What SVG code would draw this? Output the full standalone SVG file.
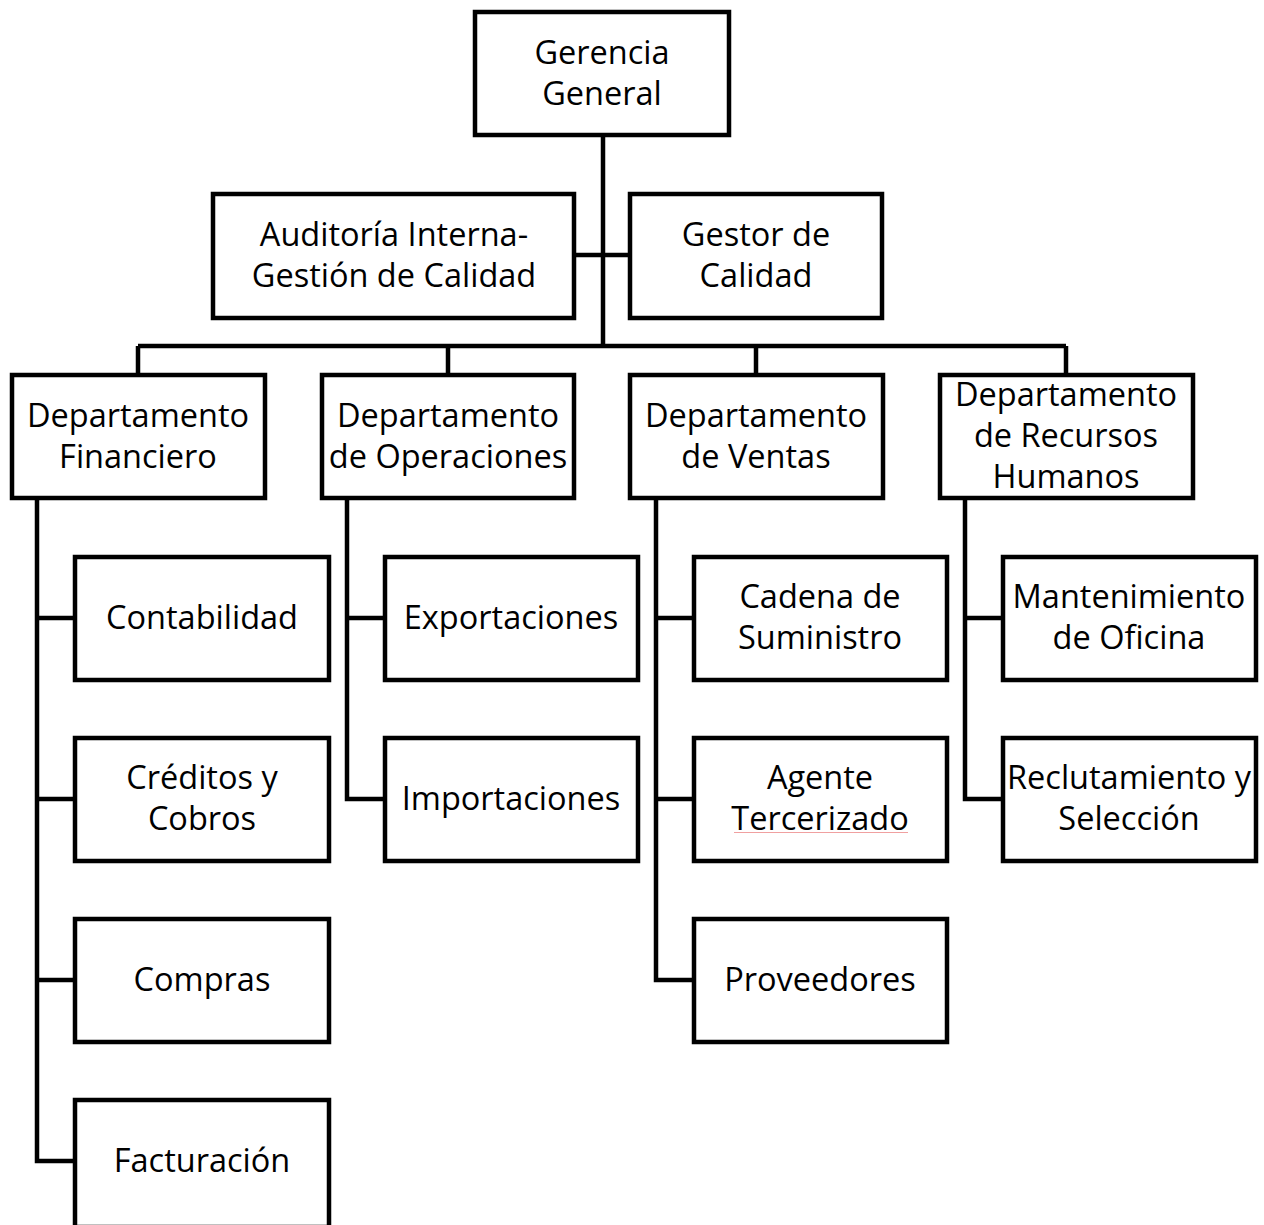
<svg xmlns="http://www.w3.org/2000/svg" width="1264" height="1225" viewBox="0 0 1264 1225">
<style>
.box{fill:#fff;stroke:#000;stroke-width:4.5;stroke-linejoin:miter}
.t{font-family:"Open Sans","Noto Sans",sans-serif;font-size:32.5px;fill:#000;text-anchor:middle}
.c{fill:none;stroke:#000;stroke-width:4.5;stroke-linejoin:miter;stroke-linecap:butt}
</style>
<rect width="1264" height="1225" fill="#fff"/>
<g id="connectors">
<path class="c" d="M603 137V346M576 255H628M138 346H1066M138 346V373M448 346V373M756 346V373M1066 346V373"/>
<path class="c" d="M37 500V1161H73M37 618H73M37 799H73M37 980H73"/>
<path class="c" d="M347 500V799H383M347 618H383"/>
<path class="c" d="M656 500V980H692M656 618H692M656 799H692"/>
<path class="c" d="M965 500V799H1001M965 618H1001"/>
</g>
<g id="gerencia"><rect class="box" x="475" y="12" width="254" height="123"/><text class="t" x="602" y="64">Gerencia</text><text class="t" x="602" y="105">General</text></g>
<g id="auditoria"><rect class="box" x="213" y="194" width="361" height="124"/><text class="t" x="394" y="246">Auditoría Interna-</text><text class="t" x="394" y="287">Gestión de Calidad</text></g>
<g id="gestor"><rect class="box" x="630" y="194" width="252" height="124"/><text class="t" x="756" y="246">Gestor de</text><text class="t" x="756" y="287">Calidad</text></g>
<g id="financiero"><rect class="box" x="12" y="375" width="253" height="123"/><text class="t" x="138" y="427">Departamento</text><text class="t" x="138" y="468">Financiero</text></g>
<g id="operaciones"><rect class="box" x="322" y="375" width="252" height="123"/><text class="t" x="448" y="427">Departamento</text><text class="t" x="448" y="468">de Operaciones</text></g>
<g id="ventas"><rect class="box" x="630" y="375" width="253" height="123"/><text class="t" x="756" y="427">Departamento</text><text class="t" x="756" y="468">de Ventas</text></g>
<g id="rrhh"><rect class="box" x="940" y="375" width="253" height="123"/><text class="t" x="1066" y="406">Departamento</text><text class="t" x="1066" y="447">de Recursos</text><text class="t" x="1066" y="488">Humanos</text></g>
<g id="contabilidad"><rect class="box" x="75" y="557" width="254" height="123"/><text class="t" x="202" y="629">Contabilidad</text></g>
<g id="creditos"><rect class="box" x="75" y="738" width="254" height="123"/><text class="t" x="202" y="789">Créditos y</text><text class="t" x="202" y="830">Cobros</text></g>
<g id="compras"><rect class="box" x="75" y="919" width="254" height="123"/><text class="t" x="202" y="991">Compras</text></g>
<g id="facturacion"><rect class="box" x="75" y="1100" width="254" height="127"/><text class="t" x="202" y="1172">Facturación</text></g>
<g id="exportaciones"><rect class="box" x="385" y="557" width="253" height="123"/><text class="t" x="511" y="629">Exportaciones</text></g>
<g id="importaciones"><rect class="box" x="385" y="738" width="253" height="123"/><text class="t" x="511" y="810">Importaciones</text></g>
<g id="cadena"><rect class="box" x="694" y="557" width="253" height="123"/><text class="t" x="820" y="608">Cadena de</text><text class="t" x="820" y="649">Suministro</text></g>
<g id="agente"><rect class="box" x="694" y="738" width="253" height="123"/><text class="t" x="820" y="789">Agente</text><text class="t" x="820" y="830">Tercerizado</text><line x1="734" y1="832.5" x2="908" y2="832.5" stroke="#f0a0a0" stroke-width="1"/></g>
<g id="proveedores"><rect class="box" x="694" y="919" width="253" height="123"/><text class="t" x="820" y="991">Proveedores</text></g>
<g id="mantenimiento"><rect class="box" x="1003" y="557" width="253" height="123"/><text class="t" x="1129" y="608">Mantenimiento</text><text class="t" x="1129" y="649">de Oficina</text></g>
<g id="reclutamiento"><rect class="box" x="1003" y="738" width="253" height="123"/><text class="t" x="1129" y="789">Reclutamiento y</text><text class="t" x="1129" y="830">Selección</text></g>
</svg>
